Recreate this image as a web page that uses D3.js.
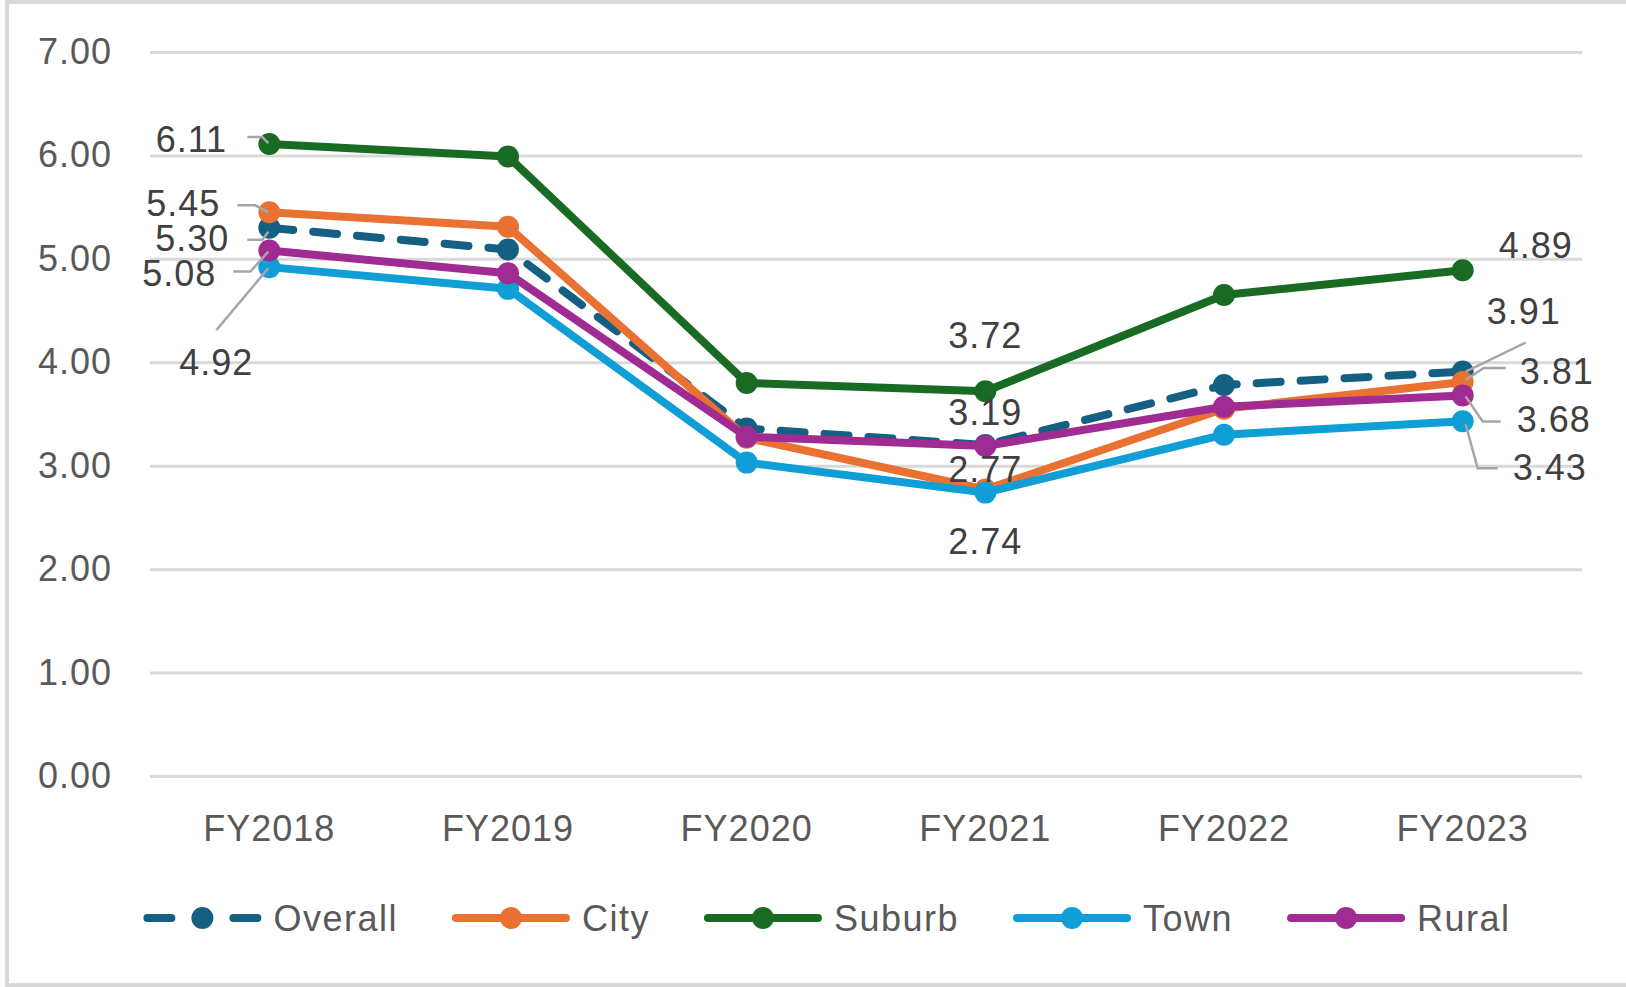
<!DOCTYPE html>
<html>
<head>
<meta charset="utf-8">
<script src="https://cdn.jsdelivr.net/npm/d3@7/dist/d3.min.js"></script>
<style>
  body { margin: 0; background: #fff; }
  svg text { font-family: "Liberation Sans", Arial, sans-serif; letter-spacing: 1px; }
</style>
</head>
<body>
<svg id="chart" width="1626" height="987"></svg>
<script>
//////////////// DATA ////////////////

var categories = ["FY2018", "FY2019", "FY2020", "FY2021", "FY2022", "FY2023"];
var yTicks = [0, 1, 2, 3, 4, 5, 6, 7];

var overall = [5.30, 5.09, 3.36, 3.20, 3.78, 3.91];
var city    = [5.45, 5.31, 3.27, 2.77, 3.55, 3.81];
var suburb  = [6.11, 5.99, 3.80, 3.72, 4.65, 4.89];
var town    = [4.92, 4.71, 3.03, 2.74, 3.30, 3.43];
var rural   = [5.08, 4.86, 3.28, 3.19, 3.57, 3.68];

var seriesNames = ["Overall", "City", "Suburb", "Town", "Rural"];
var seriesValues = [overall, city, suburb, town, rural];

// colors / styles
var colors = ["#156082", "#E97132", "#196B24", "#0F9ED5", "#A02B93"];
var dashed = [true, false, false, false, false];

// data labels: series index, category index, text offset from point, leader (offsets)
var labels = [
    {s: 2, c: 0, dx: -78, dy: 8,   lead: [[-22,-7],[-7,-7],[-1,-1]]},
    {s: 1, c: 0, dx: -86, dy: 4,   lead: [[-32,-7],[-14,-7],[-1,0]]},
    {s: 0, c: 0, dx: -77, dy: 23,  lead: [[-22,12],[-7,12],[-1,4]]},
    {s: 4, c: 0, dx: -90, dy: 35,  lead: [[-36,21],[-19,21],[-1,1]]},
    {s: 3, c: 0, dx: -53, dy: 108, lead: [[-53,63],[-1,1]]},
    {s: 2, c: 3, dx: 0,   dy: -43},
    {s: 4, c: 3, dx: 0,   dy: -21},
    {s: 1, c: 3, dx: 0,   dy: -8},
    {s: 3, c: 3, dx: 0,   dy: 61},
    {s: 2, c: 5, dx: 73,  dy: -12},
    {s: 0, c: 5, dx: 61,  dy: -48, lead: [[63,-29],[3,0]]},
    {s: 1, c: 5, dx: 94,  dy: 2,   lead: [[43,-14],[21,-14],[3,-2]]},
    {s: 4, c: 5, dx: 91,  dy: 37,  lead: [[38,26],[20,26],[3,1]]},
    {s: 3, c: 5, dx: 87,  dy: 59,  lead: [[35,47],[15,47],[3,3]]}
];

//////////////// CHART ////////////////

var svg = d3.select("#chart");
var fontSize = 36;

// Chart border
svg.append("rect")
    .attr("x", 7).attr("y", 2)
    .attr("width", 1640).attr("height", 983)
    .attr("fill", "#fff")
    .attr("stroke", "#d9d9d9")
    .attr("stroke-width", 4);

var plotLeft = 150, plotRight = 1582, plotTop = 52, plotBottom = 776;

var xScale = d3.scaleBand()
    .domain(categories)
    .range([plotLeft, plotRight]);

var yScale = d3.scaleLinear()
    .domain([0, 7])
    .range([plotBottom, plotTop]);

var xPos = function(i) { return xScale(categories[i]) + xScale.bandwidth() / 2; };

// Gridlines + y labels
var yAxis = d3.axisLeft(yScale)
    .tickValues(yTicks)
    .tickSize(-(plotRight - plotLeft))
    .tickFormat(d3.format(".2f"));

var gy = svg.append("g")
    .attr("transform", "translate(" + plotLeft + ",0)")
    .call(yAxis);
gy.select(".domain").remove();
gy.selectAll(".tick line").attr("stroke", "#d9d9d9").attr("stroke-width", 3);
gy.selectAll(".tick text")
    .attr("fill", "#595959")
    .attr("font-size", fontSize)
    .attr("x", -38);

// X axis labels
var xAxis = d3.axisBottom(xScale).tickSize(0).tickPadding(39);
var gx = svg.append("g")
    .attr("transform", "translate(0," + plotBottom + ")")
    .call(xAxis);
gx.select(".domain").remove();
gx.selectAll(".tick text")
    .attr("fill", "#595959")
    .attr("font-size", fontSize);

// Lines
var line = d3.line()
    .x(function(d, i) { return xPos(i); })
    .y(function(d) { return yScale(d); });

seriesValues.forEach(function(vals, s) {
    var g = svg.append("g");
    g.append("path")
        .datum(vals)
        .attr("d", line)
        .attr("fill", "none")
        .attr("stroke", colors[s])
        .attr("stroke-width", 8)
        .attr("stroke-linejoin", "round")
        .attr("stroke-linecap", "round")
        .attr("stroke-dasharray", dashed[s] ? "24 20" : null);
    g.selectAll("circle")
        .data(vals)
        .enter()
        .append("circle")
        .attr("cx", function(d, i) { return xPos(i); })
        .attr("cy", function(d) { return yScale(d); })
        .attr("r", 11)
        .attr("fill", colors[s]);
});

// Data labels + leader lines
labels.forEach(function(l) {
    var v = seriesValues[l.s][l.c];
    var px = xPos(l.c), py = yScale(v);
    if (l.lead) {
        svg.append("polyline")
            .attr("points", l.lead.map(function(p) { return (px + p[0]) + "," + (py + p[1]); }).join(" "))
            .attr("fill", "none")
            .attr("stroke", "#a6a6a6")
            .attr("stroke-width", 2.5);
    }
    svg.append("text")
        .attr("x", px + l.dx)
        .attr("y", py + l.dy)
        .attr("text-anchor", "middle")
        .attr("fill", "#404040")
        .attr("font-size", fontSize)
        .text(v.toFixed(2));
});

// Legend
var legendY = 918, symbolW = 118, textGap = 12, itemGap = 54;
var legend = svg.append("g");
var xCursor = 0;
seriesNames.forEach(function(name, s) {
    var item = legend.append("g").attr("transform", "translate(" + xCursor + ",0)");
    item.append("line")
        .attr("x1", 4).attr("x2", symbolW - 4)
        .attr("y1", legendY).attr("y2", legendY)
        .attr("stroke", colors[s])
        .attr("stroke-width", 8)
        .attr("stroke-linecap", "round")
        .attr("stroke-dasharray", dashed[s] ? "24 62 24" : null);
    item.append("circle")
        .attr("cx", symbolW / 2).attr("cy", legendY)
        .attr("r", 11)
        .attr("fill", colors[s]);
    var t = item.append("text")
        .attr("x", symbolW + textGap)
        .attr("y", legendY + 13)
        .attr("fill", "#595959")
        .attr("font-size", fontSize)
        .style("letter-spacing", "1.5px")
        .text(name);
    xCursor += symbolW + textGap + t.node().getComputedTextLength() + itemGap;
});
var legendW = xCursor - itemGap;
legend.attr("transform", "translate(" + (827 - legendW / 2) + ",0)");
</script>
</body>
</html>
